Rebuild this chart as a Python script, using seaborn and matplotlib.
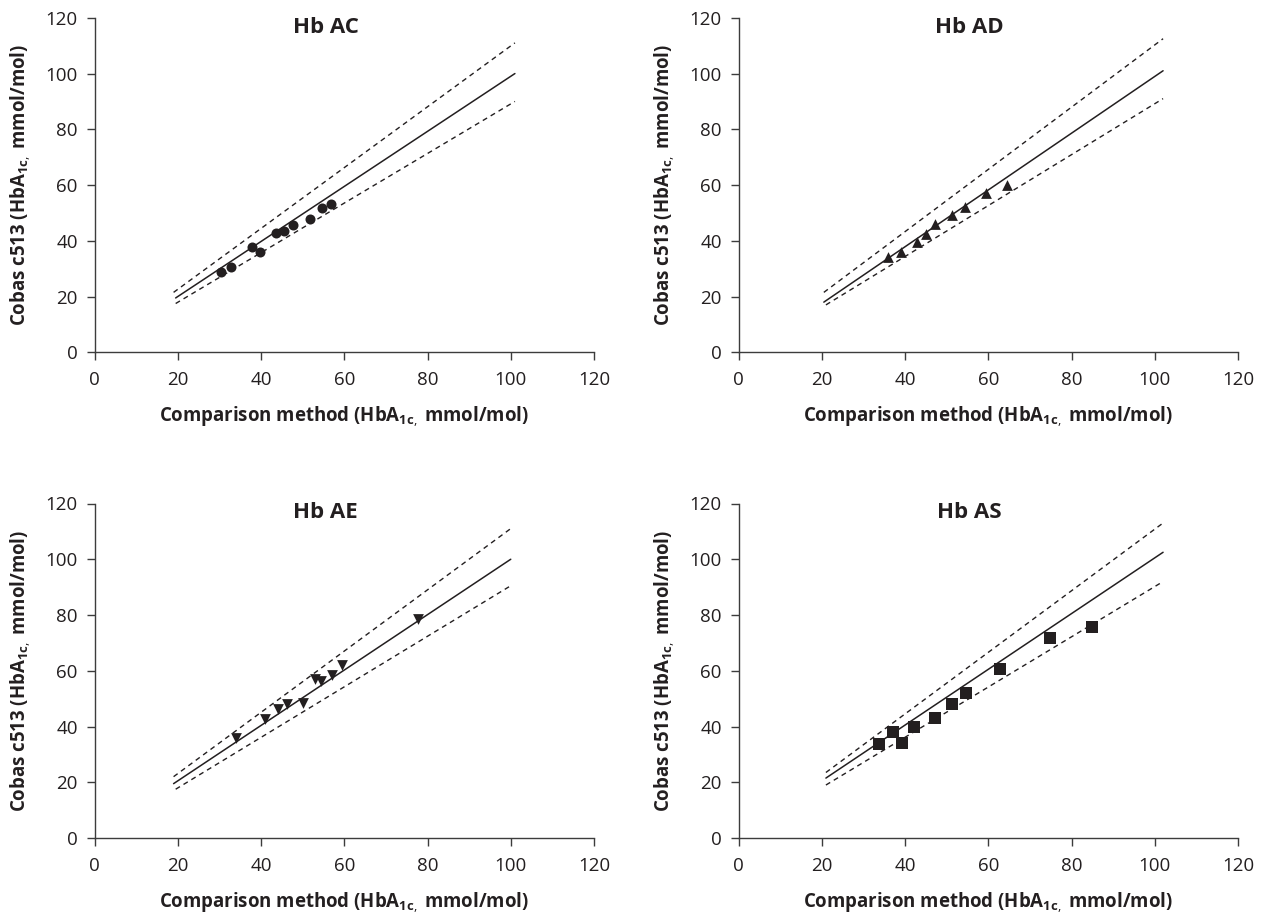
import matplotlib
matplotlib.use("Agg")
import matplotlib.pyplot as plt
import seaborn as sns

# ---------------- data ----------------
panel_titles = ["Hb AC", "Hb AD", "Hb AE", "Hb AS"]
panel_markers = ["o", "^", "v", "s"]

ac_x = [30.5, 32.7, 37.8, 39.8, 43.6, 45.6, 47.6, 51.8, 54.7, 56.7]
ac_y = [28.7, 30.5, 37.9, 36.1, 42.7, 43.6, 45.7, 47.9, 51.8, 53.2]

ad_x = [36.0, 39.0, 43.0, 45.0, 47.2, 51.2, 54.3, 59.4, 64.6]
ad_y = [34.1, 35.9, 39.4, 42.5, 46.1, 49.1, 52.1, 57.2, 59.9]

ae_x = [34.0, 40.9, 44.2, 46.3, 50.2, 53.0, 54.3, 57.1, 59.4, 77.6]
ae_y = [35.9, 42.7, 46.2, 47.9, 48.5, 56.9, 56.4, 58.4, 62.0, 78.5]

as_x = [33.8, 37.0, 39.2, 42.2, 47.2, 51.2, 54.6, 62.8, 74.8, 85.0]
as_y = [33.9, 38.1, 34.2, 39.9, 43.1, 48.0, 52.1, 60.7, 71.8, 75.6]

# regression line (solid) and limits (dashed): [x_start, x_end], [y_start, y_end]
ac_fit_x, ac_fit_y = [19.5, 101.0], [19.5, 100.0]
ac_up_x, ac_up_y = [19.0, 101.0], [21.5, 111.0]
ac_lo_x, ac_lo_y = [19.5, 101.0], [17.5, 90.0]

ad_fit_x, ad_fit_y = [20.5, 102.0], [18.0, 101.0]
ad_up_x, ad_up_y = [20.5, 102.0], [21.5, 112.5]
ad_lo_x, ad_lo_y = [21.0, 102.0], [17.0, 91.0]

ae_fit_x, ae_fit_y = [19.0, 100.0], [19.5, 100.0]
ae_up_x, ae_up_y = [19.0, 100.0], [22.0, 111.0]
ae_lo_x, ae_lo_y = [19.5, 100.0], [17.5, 90.5]

as_fit_x, as_fit_y = [21.0, 102.0], [21.5, 102.5]
as_up_x, as_up_y = [21.0, 102.0], [23.5, 113.0]
as_lo_x, as_lo_y = [21.0, 102.0], [19.0, 92.0]

ticks = [0, 20, 40, 60, 80, 100, 120]

panels = [
    (ac_x, ac_y, (ac_fit_x, ac_fit_y), (ac_up_x, ac_up_y), (ac_lo_x, ac_lo_y), 52),
    (ad_x, ad_y, (ad_fit_x, ad_fit_y), (ad_up_x, ad_up_y), (ad_lo_x, ad_lo_y), 60),
    (ae_x, ae_y, (ae_fit_x, ae_fit_y), (ae_up_x, ae_up_y), (ae_lo_x, ae_lo_y), 60),
    (as_x, as_y, (as_fit_x, as_fit_y), (as_up_x, as_up_y), (as_lo_x, as_lo_y), 72),
]

# ---------------- style ----------------
sns.set_theme(style="white")
plt.rcParams["font.family"] = ["Open Sans", "DejaVu Sans"]
plt.rcParams["mathtext.fontset"] = "custom"
plt.rcParams["mathtext.rm"] = "Open Sans"
plt.rcParams["mathtext.bf"] = "Open Sans:bold"

ink = "#231f20"
spine_col = "#3c3c3c"

fig = plt.figure(figsize=(12.68, 9.23), dpi=100)
W, H = 1268, 923
lefts = [94.5, 738.5]
bottoms = [352.3, 838.0]
aw, ah = 499.5, 334.5

positions = [
    (lefts[0], bottoms[0]), (lefts[1], bottoms[0]),
    (lefts[0], bottoms[1]), (lefts[1], bottoms[1]),
]

ylabel = r"Cobas c513 (HbA$_{\mathbf{1c},}$ mmol/mol)"
xlabel = r"Comparison method (HbA$_{\mathbf{1c},}$ mmol/mol)"

dash = (0, (3.6, 3.0))

for i, ((px, py), (xs, ys, fit, up, lo, msize)) in enumerate(zip(positions, panels)):
    ax = fig.add_axes([px / W, 1 - py / H, aw / W, ah / H])
    sns.lineplot(x=fit[0], y=fit[1], ax=ax, color=ink, lw=1.1, sort=False,
                 errorbar=None)
    sns.lineplot(x=up[0], y=up[1], ax=ax, color=ink, lw=1.0, sort=False,
                 errorbar=None, linestyle=dash)
    sns.lineplot(x=lo[0], y=lo[1], ax=ax, color=ink, lw=1.0, sort=False,
                 errorbar=None, linestyle=dash)
    sns.scatterplot(x=xs, y=ys, ax=ax, marker=panel_markers[i], s=msize,
                    color=ink, linewidth=0, zorder=5)

    ax.set_xlim(0, 120)
    ax.set_ylim(0, 120)
    ax.set_xticks(ticks)
    ax.set_yticks(ticks)
    ax.set_xticklabels([str(t) for t in ticks])
    ax.set_yticklabels([str(t) for t in ticks])
    sns.despine(ax=ax)
    for s in ["left", "bottom"]:
        ax.spines[s].set_color(spine_col)
        ax.spines[s].set_linewidth(1.0)
    ax.tick_params(axis="both", direction="out", length=5.5, width=1.0,
                   color=spine_col, labelsize=13.5, labelcolor=ink,
                   left=True, bottom=True)
    ax.tick_params(axis="x", pad=8)
    ax.tick_params(axis="y", pad=6.5)
    ax.set_xlabel(xlabel, fontsize=13.4, fontweight="bold", color=ink,
                  labelpad=11)
    ax.set_ylabel(ylabel, fontsize=13.4, fontweight="bold", color=ink,
                  labelpad=9)
    ax.text(0.463, 0.972, panel_titles[i], transform=ax.transAxes,
            ha="center", va="center", fontsize=16, fontweight="bold",
            color=ink)
    ax.set_facecolor("white")

fig.savefig("out.png", dpi=100, facecolor="white")
